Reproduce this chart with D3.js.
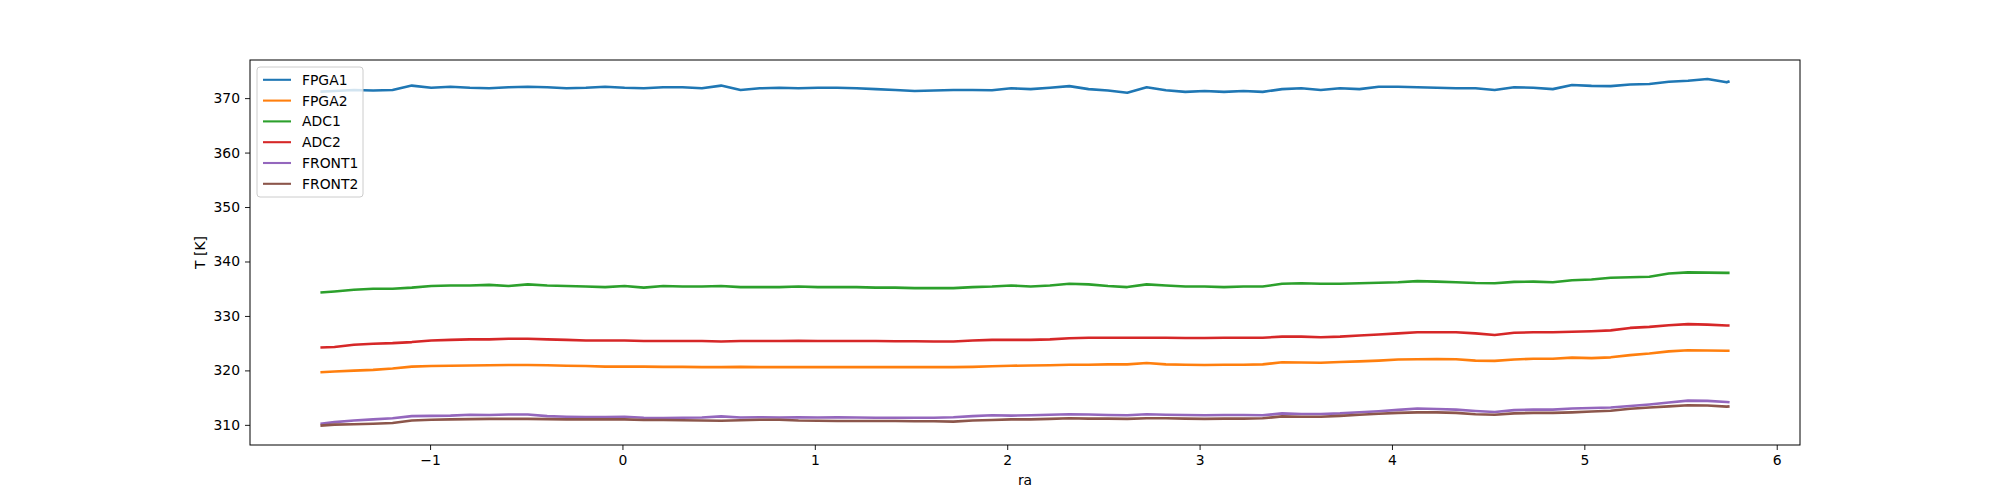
<!DOCTYPE html>
<html>
  <head>
    <meta charset="utf-8">
    <title>Temperatures vs ra</title>
    <script src="https://d3js.org/d3.v7.min.js"></script>
    <style>
      body { margin: 0; background: #fff; }
      text { font-family: "DejaVu Sans", sans-serif; font-size: 13.9px; fill: #000; }
    </style>
  </head>

  <body>
    <svg width="2000" height="500"></svg>

    <script>

    // sample positions (ra) and the six temperature traces
    const ra = [-1.57, -1.497, -1.396, -1.296, -1.195, -1.095, -0.994, -0.894, -0.793, -0.693,
      -0.592, -0.492, -0.391, -0.291, -0.190, -0.090, 0.011, 0.111, 0.212, 0.312,
      0.413, 0.513, 0.614, 0.714, 0.815, 0.915, 1.016, 1.116, 1.217, 1.317,
      1.418, 1.519, 1.619, 1.720, 1.820, 1.921, 2.021, 2.122, 2.222, 2.323,
      2.423, 2.524, 2.624, 2.725, 2.825, 2.926, 3.026, 3.127, 3.228, 3.328,
      3.429, 3.529, 3.630, 3.730, 3.831, 3.931, 4.032, 4.132, 4.233, 4.333,
      4.434, 4.534, 4.635, 4.735, 4.836, 4.936, 5.037, 5.137, 5.238, 5.338,
      5.439, 5.539, 5.640, 5.740, 5.755];

    const fpga1 = [371.2, 371.3, 371.5, 371.4, 371.5, 372.3, 371.9, 372.1, 371.9, 371.8,
      372.0, 372.1, 372.0, 371.8, 371.9, 372.1, 371.9, 371.8, 372.0, 372.0,
      371.8, 372.3, 371.5, 371.8, 371.9, 371.8, 371.9, 371.9, 371.8, 371.65,
      371.5, 371.3, 371.4, 371.5, 371.5, 371.45, 371.8, 371.65, 371.9, 372.2,
      371.65, 371.4, 371.0, 372.0, 371.45, 371.15, 371.3, 371.15, 371.3, 371.15,
      371.65, 371.8, 371.5, 371.8, 371.65, 372.1, 372.1, 372.0, 371.9, 371.8,
      371.8, 371.5, 372.0, 371.9, 371.65, 372.4, 372.25, 372.2, 372.5, 372.6,
      373.0, 373.2, 373.5, 372.9, 373.1];

    const fpga2 = [319.65, 319.8, 319.95, 320.1, 320.35, 320.7, 320.8, 320.85, 320.9, 320.95,
      321.0, 321.0, 320.95, 320.85, 320.8, 320.7, 320.7, 320.7, 320.65, 320.65,
      320.6, 320.6, 320.65, 320.6, 320.6, 320.6, 320.6, 320.6, 320.6, 320.6,
      320.6, 320.6, 320.6, 320.6, 320.65, 320.75, 320.85, 320.9, 320.95, 321.05,
      321.05, 321.1, 321.1, 321.35, 321.1, 321.05, 321.0, 321.05, 321.05, 321.1,
      321.5, 321.45, 321.4, 321.55, 321.65, 321.8, 322.0, 322.05, 322.1, 322.05,
      321.8, 321.75, 322.0, 322.15, 322.15, 322.35, 322.25, 322.4, 322.8, 323.1,
      323.5, 323.7, 323.65, 323.6, 323.6];

    const adc1 = [334.3, 334.5, 334.8, 335.0, 335.0, 335.2, 335.5, 335.6, 335.6, 335.7,
      335.5, 335.8, 335.6, 335.5, 335.4, 335.3, 335.5, 335.2, 335.5, 335.4,
      335.4, 335.5, 335.3, 335.3, 335.3, 335.4, 335.3, 335.3, 335.3, 335.2,
      335.2, 335.1, 335.1, 335.1, 335.3, 335.4, 335.6, 335.4, 335.6, 335.9,
      335.8, 335.5, 335.3, 335.8, 335.6, 335.4, 335.4, 335.3, 335.4, 335.4,
      335.9, 336.0, 335.9, 335.9, 336.0, 336.1, 336.2, 336.4, 336.3, 336.2,
      336.05, 336.0, 336.25, 336.3, 336.2, 336.55, 336.7, 337.0, 337.1, 337.2,
      337.8, 338.0, 337.95, 337.9, 337.9];

    const adc2 = [324.2, 324.3, 324.7, 324.9, 325.0, 325.2, 325.5, 325.6, 325.7, 325.7,
      325.8, 325.8, 325.7, 325.6, 325.5, 325.5, 325.5, 325.4, 325.4, 325.4,
      325.4, 325.3, 325.4, 325.4, 325.4, 325.45, 325.4, 325.4, 325.4, 325.4,
      325.35, 325.35, 325.3, 325.3, 325.5, 325.6, 325.6, 325.6, 325.7, 325.9,
      326.0, 326.0, 326.0, 326.0, 326.0, 325.95, 325.95, 326.0, 326.0, 326.0,
      326.2, 326.2, 326.1, 326.2, 326.4, 326.6, 326.8, 327.0, 327.0, 327.0,
      326.8, 326.5, 326.9, 327.0, 327.0, 327.1, 327.2, 327.35, 327.8, 328.0,
      328.3, 328.5, 328.4, 328.25, 328.25];

    const front1 = [310.2, 310.5, 310.8, 311.0, 311.2, 311.6, 311.65, 311.7, 311.85, 311.8,
      311.9, 311.9, 311.6, 311.5, 311.45, 311.45, 311.5, 311.3, 311.25, 311.3,
      311.35, 311.55, 311.35, 311.4, 311.35, 311.4, 311.35, 311.4, 311.35, 311.3,
      311.3, 311.3, 311.3, 311.4, 311.6, 311.75, 311.7, 311.75, 311.85, 311.95,
      311.9, 311.8, 311.75, 311.95, 311.85, 311.8, 311.75, 311.8, 311.8, 311.75,
      312.1, 312.0, 312.0, 312.1, 312.3, 312.5, 312.75, 313.0, 312.9, 312.8,
      312.55, 312.35, 312.7, 312.8, 312.8, 313.0, 313.1, 313.2, 313.45, 313.75,
      314.1, 314.45, 314.4, 314.2, 314.15];

    const front2 = [309.85, 310.05, 310.1, 310.2, 310.35, 310.8, 310.95, 311.0, 311.05, 311.1,
      311.1, 311.1, 311.05, 311.0, 311.0, 311.0, 311.0, 310.9, 310.9, 310.85,
      310.8, 310.75, 310.85, 310.95, 310.95, 310.8, 310.75, 310.7, 310.7, 310.7,
      310.7, 310.65, 310.65, 310.6, 310.8, 310.9, 311.0, 311.0, 311.1, 311.2,
      311.15, 311.15, 311.1, 311.2, 311.2, 311.15, 311.1, 311.15, 311.15, 311.2,
      311.55, 311.5, 311.5, 311.65, 311.85, 312.05, 312.2, 312.3, 312.3, 312.2,
      311.95, 311.85, 312.1, 312.2, 312.2, 312.3, 312.45, 312.6, 312.95, 313.2,
      313.4, 313.6, 313.55, 313.35, 313.4];

    const names = ['FPGA1', 'FPGA2', 'ADC1', 'ADC2', 'FRONT1', 'FRONT2'];
    const colors = ['#1f77b4', '#ff7f0e', '#2ca02c', '#d62728', '#9467bd', '#8c564b'];
    const xTicks = [-1, 0, 1, 2, 3, 4, 5, 6];
    const yTicks = [310, 320, 330, 340, 350, 360, 370];

    (function (d3) {
    'use strict';

    const series = [fpga1, fpga2, adc1, adc2, front1, front2].map((vals, i) => ({
      name: names[i],
      color: colors[i],
      points: vals.map((v, j) => [ra[j], v])
    }));

    const svg = d3.select('svg');
    const axLeft = 250, axRight = 1800, axTop = 60, axBottom = 445;

    const x = d3.scaleLinear().domain([-1.936, 6.121]).range([axLeft, axRight]);
    const y = d3.scaleLinear().domain([306.3, 377.0]).range([axBottom, axTop]);

    const line = d3.line().x(d => x(d[0])).y(d => y(d[1]));

    // traces
    svg.append('g').selectAll('path').data(series)
      .enter().append('path')
        .attr('d', d => line(d.points))
        .attr('fill', 'none')
        .attr('stroke', d => d.color)
        .attr('stroke-width', 2.6)
        .attr('stroke-linejoin', 'round');

    // axes
    const xAxis = svg.append('g')
      .attr('transform', `translate(0,${axBottom})`)
      .call(d3.axisBottom(x).tickValues(xTicks).tickSize(5).tickPadding(5));
    const yAxis = svg.append('g')
      .attr('transform', `translate(${axLeft},0)`)
      .call(d3.axisLeft(y).tickValues(yTicks).tickSize(5).tickPadding(5));

    [xAxis, yAxis].forEach(a => {
      a.select('.domain').remove();
      a.selectAll('line').attr('stroke', '#000').attr('stroke-width', 0.9);
      a.selectAll('text').style('font-family', '"DejaVu Sans", sans-serif').style('font-size', '13.9px');
    });

    svg.append('rect')
      .attr('x', axLeft).attr('y', axTop)
      .attr('width', axRight - axLeft).attr('height', axBottom - axTop)
      .attr('fill', 'none')
      .attr('stroke', '#000')
      .attr('stroke-width', 1);

    svg.append('text')
      .attr('x', (axLeft + axRight) / 2).attr('y', 480)
      .attr('text-anchor', 'middle')
      .attr('dominant-baseline', 'central')
      .text('ra');

    svg.append('text')
      .attr('transform', `translate(200,${(axTop + axBottom) / 2}) rotate(-90)`)
      .attr('text-anchor', 'middle')
      .attr('dominant-baseline', 'central')
      .text('T [K]');

    // legend, upper left
    const legend = svg.append('g');
    legend.append('rect')
      .attr('x', 257).attr('y', 67)
      .attr('width', 106).attr('height', 130)
      .attr('rx', 3)
      .attr('fill', '#fff').attr('fill-opacity', 0.8)
      .attr('stroke', '#ccc');

    const rows = legend.selectAll('g.row').data(series)
      .enter().append('g')
        .attr('class', 'row')
        .attr('transform', (d, i) => `translate(0,${79.8 + i * 20.8})`);
    rows.append('line')
      .attr('x1', 263).attr('x2', 291)
      .attr('stroke', d => d.color)
      .attr('stroke-width', 2.1);
    rows.append('text')
      .attr('x', 302)
      .attr('dominant-baseline', 'central')
      .text(d => d.name);

    }(d3));

    </script>
  </body>
</html>
